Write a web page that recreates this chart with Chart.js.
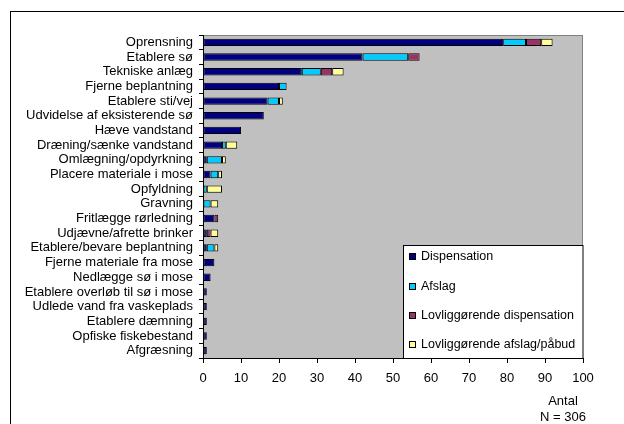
<!DOCTYPE html>
<html lang="da">
<head>
  <meta charset="UTF-8">
  <title>Sager fordelt på indgreb</title>
  <script src="https://cdn.jsdelivr.net/npm/chart.js"></script>
  <style>
    body {
      margin: 0;
      background: white;
    }
    #myChart {
      display: block;
    }
  </style>
</head>
<body>
  <canvas id="myChart" width="624" height="424"></canvas>

  <script>
    const categories = [
      'Oprensning', 'Etablere sø', 'Tekniske anlæg', 'Fjerne beplantning',
      'Etablere sti/vej', 'Udvidelse af eksisterende sø', 'Hæve vandstand',
      'Dræning/sænke vandstand', 'Omlægning/opdyrkning', 'Placere materiale i mose',
      'Opfyldning', 'Gravning', 'Fritlægge rørledning', 'Udjævne/afrette brinker',
      'Etablere/bevare beplantning', 'Fjerne materiale fra mose', 'Nedlægge sø i mose',
      'Etablere overløb til sø i mose', 'Udlede vand fra vaskeplads',
      'Etablere dæmning', 'Opfiske fiskebestand', 'Afgræsning'
    ];

    const dispensation = [79, 42, 26, 20, 17, 16, 10, 5, 1, 2, 0, 0, 3, 1, 1, 3, 2, 1, 1, 1, 1, 1];
    const afslag       = [6, 12, 5, 2, 3, 0, 0, 1, 4, 2, 1, 2, 0, 0, 2, 0, 0, 0, 0, 0, 0, 0];
    const lovligDisp   = [4, 3, 3, 0, 0, 0, 0, 0, 0, 0, 0, 0, 1, 1, 0, 0, 0, 0, 0, 0, 0, 0];
    const lovligAfslag = [3, 0, 3, 0, 1, 0, 0, 3, 1, 1, 4, 2, 0, 2, 1, 0, 0, 0, 0, 0, 0, 0];

    const xTicks = [0, 10, 20, 30, 40, 50, 60, 70, 80, 90, 100];
    const axisNote = ['Antal', 'N = 306'];

    const FONT = '"Liberation Sans", Arial, sans-serif';

    // plot background, outer frame, legend box and the note under the axis
    const excelLook = {
      id: 'excelLook',
      beforeDraw(chart) {
        const { ctx, chartArea: a } = chart;
        ctx.save();
        ctx.fillStyle = '#fff';
        ctx.fillRect(0, 0, chart.width, chart.height);
        ctx.strokeStyle = '#000';
        ctx.lineWidth = 1;
        ctx.strokeRect(10.5, 11.5, 700, 500);
        ctx.fillStyle = '#c0c0c0';
        ctx.fillRect(a.left, a.top, a.right - a.left, a.bottom - a.top);
        ctx.strokeStyle = '#808080';
        ctx.strokeRect(a.left + 0.5, a.top + 0.5, a.right - a.left - 1, a.bottom - a.top);
        ctx.restore();
      },
      afterDraw(chart) {
        const { ctx, chartArea: a } = chart;
        ctx.save();
        // legend
        const lx = 403.5, ly = 245.5, lw = a.right - 403.5, lh = a.bottom - 245;
        ctx.fillStyle = '#fff';
        ctx.fillRect(lx, ly, lw, lh);
        ctx.strokeStyle = '#000';
        ctx.lineWidth = 1;
        ctx.strokeRect(lx, ly, lw, lh);
        ctx.font = '12.5px ' + FONT;
        ctx.textBaseline = 'middle';
        ctx.textAlign = 'left';
        const rows = [257, 287, 316, 345];
        chart.data.datasets.forEach((ds, i) => {
          const y = rows[i];
          ctx.fillStyle = ds.backgroundColor;
          ctx.fillRect(409.5, y - 3.5, 6, 6);
          ctx.strokeRect(409.5, y - 3.5, 6, 6);
          ctx.fillStyle = '#000';
          ctx.fillText(ds.label, 421, y);
        });
        // axis note
        ctx.font = '13px ' + FONT;
        ctx.textAlign = 'center';
        ctx.fillText(axisNote[0], 563, 401);
        ctx.fillText(axisNote[1], 563, 417);
        ctx.restore();
      }
    };

    function makeSet(label, data, color) {
      return {
        label: label,
        data: data,
        backgroundColor: color,
        borderColor: '#000',
        borderWidth: 1,
        borderSkipped: false,
        categoryPercentage: 1,
        barPercentage: 0.5
      };
    }

    new Chart(document.getElementById('myChart'), {
      type: 'bar',
      data: {
        labels: categories,
        datasets: [
          makeSet('Dispensation', dispensation, '#000080'),
          makeSet('Afslag', afslag, '#00ccff'),
          makeSet('Lovliggørende dispensation', lovligDisp, '#993366'),
          makeSet('Lovliggørende afslag/påbud', lovligAfslag, '#ffff99')
        ]
      },
      options: {
        indexAxis: 'y',
        responsive: false,
        animation: false,
        layout: {
          padding: { top: 35, right: 41, bottom: 0, left: 0 }
        },
        plugins: {
          legend: { display: false },
          tooltip: { enabled: false }
        },
        scales: {
          x: {
            stacked: true,
            min: 0,
            max: 100,
            afterBuildTicks: scale => {
              scale.ticks = xTicks.map(v => ({ value: v }));
            },
            afterFit: scale => { scale.height = 66; },
            grid: {
              drawOnChartArea: false,
              drawTicks: true,
              tickLength: 5,
              color: '#000'
            },
            border: { display: true, color: '#000' },
            ticks: {
              color: '#000',
              padding: 8,
              maxRotation: 0,
              font: { family: FONT, size: 13 }
            }
          },
          y: {
            stacked: true,
            afterFit: scale => { scale.width = 203; },
            grid: {
              drawOnChartArea: false,
              drawTicks: true,
              tickLength: 4,
              color: '#000'
            },
            border: { display: true, color: '#000' },
            ticks: {
              color: '#000',
              padding: 6,
              autoSkip: false,
              font: { family: FONT, size: 13 }
            }
          }
        }
      },
      plugins: [excelLook]
    });
  </script>
</body>
</html>
